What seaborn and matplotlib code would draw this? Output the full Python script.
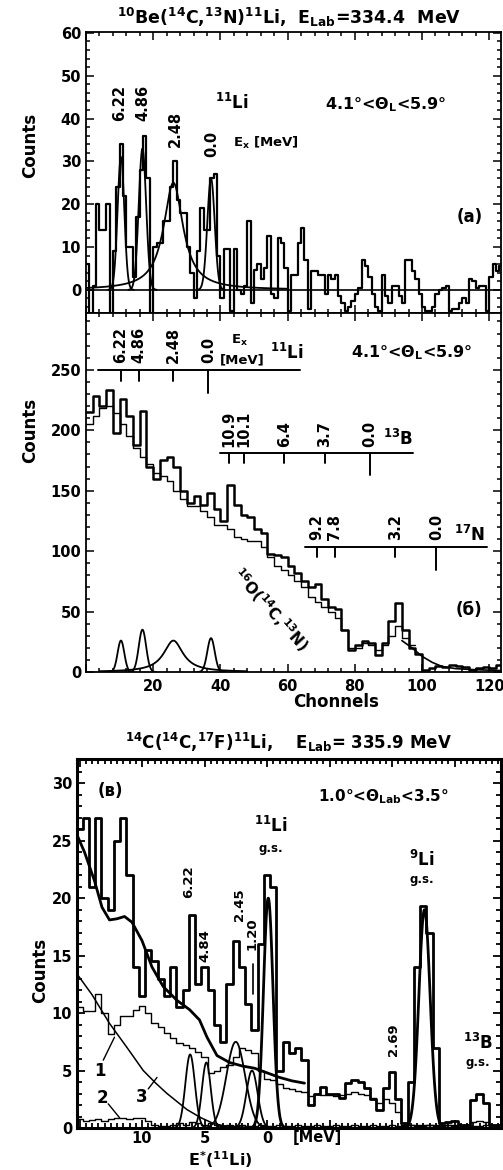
import numpy as np
import pandas as pd
import matplotlib
matplotlib.use("Agg")
import matplotlib.pyplot as plt
import matplotlib.transforms as mtransforms
from matplotlib.ticker import MultipleLocator
import seaborn as sns

# ---------------------------------------------------------------- data
# (a) 10Be(14C,13N)11Li, counts per channel, channels 0..123
a_counts = [6, -6, 1, 20, 14, 14, 20, -6, 9, 24,
            34, 22, 10, 10, 3, 17, 28, 36, 26, -6,
            10, 11, 11, 16, 16, 24, 30, 21, 18, 18,
            10, 4, -2, 9, 19, 14, 14, 26, 27, 8,
            -2, 9.5, 9.5, -5, 9.5, 0, -1, 1, 16, -3,
            4.6, 6, 2.5, 5, 12.5, -1, -2, 12, 11, 5,
            -5, 3.5, 3.5, 11, 14.5, 7, -4.5, 4.5, 4.5, 3.5,
            3.5, -1, 3.5, 2.5, 3.5, -1.5, -3, -5, -4, -2.5,
            -1, 0.5, 7, 5.5, 3, -1, -4, -5, 3.5, -1.5,
            -3, 1, 1, -1.5, -3, 7, 7, 4.5, 2.5, -1,
            -4, -5, -5, -4, -1, 0, 0.5, 0.8, -5, -4.5,
            -4.5, -3, -2, -3, 2.5, 2, 0.5, 1, 1, -5,
            3, 6, 4.5, 5.5]

# 11Li states seen in (a) and (б): label, channel, fitted heights, width, line shape
li_labels = ["6.22", "4.86", "2.48", "0.0"]
li_channel = [10.4, 16.8, 26.0, 37.2]
a_peak_height = [31, 33, 25, 26]
b_peak_height = [26, 35, 26, 28]
li_peak_width = [1.0, 1.1, 3.5, 1.1]
li_peak_shape = ["gauss", "gauss", "lorentz", "gauss"]

# (б) 16O(14C,13N) spectrum in 2-channel bins: measured and background histograms
b_counts = [215, 228, 220, 233, 198, 226, 212, 188, 216, 170,
            160, 175, 178, 170, 150, 140, 146, 138, 148, 135,
            125, 155, 138, 130, 128, 118, 115, 98, 97, 95,
            88, 82, 75, 70, 73, 60, 54, 52, 35, 18,
            22, 26, 24, 14, 24, 42, 57, 35, 20, 15,
            2, 3, 5, 4, 6, 5, 4, 2, 3, 4,
            3, 6]
b_background = [205, 212, 218, 220, 214, 205, 195, 185, 178, 172,
                165, 162, 158, 150, 143, 137, 137, 133, 128, 122,
                122, 118, 112, 110, 108, 108, 103, 95, 88, 84,
                80, 75, 70, 62, 58, 54, 50, 45, 35, 20,
                20, 24, 22, 18, 22, 30, 38, 28, 22]
b_tail_channel = [94, 97, 100, 103, 106, 110, 115, 120, 123.5]
b_tail_counts = [26, 20, 13, 8, 4.5, 2.8, 2.0, 1.5, 1.2]

# level schemes drawn over (б): excitation energies and their channels
li_scheme_channel = [10.4, 15.8, 25.9, 36.4]
b13_labels = ["10.9", "10.1", "6.4", "3.7", "0.0"]
b13_channel = [42.6, 47.0, 59.0, 71.1, 84.5]
n17_labels = ["9.2", "7.8", "3.2", "0.0"]
n17_channel = [68.6, 74.0, 92.1, 104.3]

# (в) 14C(14C,17F)11Li: counts in 0.5 MeV bins, E* from 15.0 down to -19.0 MeV
c_counts = [26, 27, 21, 27, 20, 19, 25, 27, 22, 14,
            11.5, 15.5, 14.5, 13, 11.5, 14, 10.5, 12, 18.5, 12.5,
            14, 12, 9, 7.5, 12.5, 16.3, 14, 10.8, 8.5, 16,
            22, 21, 5, 7.5, 6.5, 7, 5.9, 2, 3, 3.6,
            3, 3, 2.6, 3.9, 4.2, 4, 3.5, 2.5, 1.6, 3.5,
            4.9, 2.5, 0.4, 4, 14, 19.3, 17, 7, 0.4, 0.5,
            0.6, 0.3, 0.3, 2.4, 3, 2.2, 0.3, 0.3, 0.3]
c_hist1 = [10.5, 10.2, 10.2, 11.7, 10, 8.2, 9, 9.7, 9.7, 10.3,
           10.6, 10, 9.1, 8.8, 8.3, 7.8, 7.4, 7.2, 7, 6.6,
           6.2, 4.8, 5.0, 5.3, 5.5, 6.2, 7.0, 6.8, 6.5, 5,
           4.3, 4.2, 3.8, 3.5, 3.4, 3.2, 3.1, 2.8, 3, 2.9,
           2.9, 2.8, 2.9, 3.0, 3.1, 3.0, 2.9, 2.6, 2.2, 2.5,
           2.2, 1.4, 0.3, 0.3, 0.3, 0.3, 0.3, 0.3, 0.3, 0.3,
           0.3, 0.3, 0.3, 0.5, 0.6, 0.5, 0.3, 0.3, 0.3]
c_hist2 = [0.8, 0.6, 0.7, 0.8, 0.6, 0.8, 0.9, 0.9, 0.8, 0.9,
           0.9, 0.6, 0.3, 0.2, 0.2, 0.3, 0.4, 0.3, 0.5, 0.4,
           0.3, 0.4, 0.3, 0.2, 0.3, 0.2, 0.3, 0.2, 0.2, 0.3,
           0.2, 0.2, 0.3, 0.2, 0.2, 0.3, 0.2, 0.2, 0.3, 0.2,
           0.2, 0.3, 0.2, 0.2, 0.3, 0.2, 0.2, 0.3, 0.2, 0.2,
           0.3, 0.2, 0.2, 0.3, 0.2, 0.2, 0.3, 0.2, 0.2, 0.3,
           0.2, 0.2, 0.3, 0.2, 0.2, 0.3, 0.2, 0.2, 0.3]
c3_energy = [15.2, 14.0, 12.6, 11.2, 9.9, 8.9, 8.0, 7.2, 6.4, 5.3, 4.3, 3.5, 2.5, 1.0]
c3_counts = [13.4, 11.6, 9.1, 7.0, 5.0, 3.9, 3.0, 2.3, 1.6, 0.9, 0.4, 0.2, 0.1, 0.05]
c_bg_energy = [15.2, 14.6, 13.8, 13.2, 12.6, 12.0, 11.4, 10.8, 10.0, 9.2, 8.3, 7.2,
               6.2, 5.4, 4.8, 4.0, 3.0, 2.0, 1.0, 0.0, -1.0, -2.0, -3.0]
c_bg_counts = [25.5, 24.0, 21.5, 19.2, 18.1, 18.2, 18.4, 17.9, 16.3, 14.0, 12.3, 11.1,
               10.3, 9.4, 7.9, 6.3, 5.7, 5.4, 5.2, 4.8, 4.4, 4.1, 3.9]
c_peak_energy = [6.15, 4.85, 2.5, 1.2, -0.1, -12.6]
c_peak_height = [6.4, 5.7, 7.5, 5.0, 20.0, 19.0]
c_peak_sigma = [0.38, 0.35, 0.75, 0.45, 0.38, 0.45]

# ---------------------------------------------------------------- style
sns.set_theme(style="ticks")
plt.rcParams.update({
    "font.family": ["DejaVu Sans"],
    "font.weight": "bold",
    "mathtext.fontset": "custom",
    "mathtext.rm": "DejaVu Sans:bold",
    "mathtext.it": "DejaVu Sans:bold",
    "mathtext.bf": "DejaVu Sans:bold",
    "mathtext.default": "rm",
    "axes.edgecolor": "black",
    "axes.linewidth": 1.3,
    "xtick.color": "black",
    "ytick.color": "black",
    "text.color": "black",
})
K = "black"


def gauss(x, c, h, s):
    return h * np.exp(-0.5 * ((x - c) / s) ** 2)


def lorentz(x, c, h, w):
    return h / (1.0 + ((x - c) / w) ** 2)


def step_frame(edges, values):
    return pd.DataFrame({"x": np.asarray(edges, float), "y": list(values) + [values[-1]]})


def draw_steps(ax, edges, values, lw):
    sns.lineplot(data=step_frame(edges, values), x="x", y="y", ax=ax, color=K, lw=lw,
                 drawstyle="steps-post", estimator=None, sort=False)


def draw_line(ax, x, y, lw):
    sns.lineplot(x=np.asarray(x, float), y=np.asarray(y, float), ax=ax, color=K, lw=lw,
                 estimator=None, sort=False)


def li_component(x, i, heights):
    if li_peak_shape[i] == "gauss":
        return gauss(x, li_channel[i], heights[i], li_peak_width[i])
    return lorentz(x, li_channel[i], heights[i], li_peak_width[i])


W, H = 503, 1170
fig = plt.figure(figsize=(W / 100, H / 100), dpi=100)
fig.patch.set_facecolor("white")
ax_a = fig.add_axes([86 / W, 1 - 313 / H, 415 / W, 281 / H])
ax_b = fig.add_axes([86 / W, 1 - 672 / H, 415 / W, 359 / H])
ax_c = fig.add_axes([77 / W, 1 - 1128 / H, 424 / W, 369 / H])

# ---------------------------------------------------------------- (a)
draw_steps(ax_a, np.arange(len(a_counts) + 1), a_counts, 1.6)
ax_a.axhline(0, color=K, lw=1.2)
for i in range(len(li_channel)):
    if li_peak_shape[i] == "gauss":
        xs = np.linspace(li_channel[i] - 3.8 * li_peak_width[i], li_channel[i] + 3.8 * li_peak_width[i], 120)
    else:
        xs = np.linspace(0, 60, 400)
    draw_line(ax_a, xs, li_component(xs, i, a_peak_height), 1.3)

ax_a.set_xlim(0, 123.5)
ax_a.set_ylim(-5.4, 60.2)
ax_a.yaxis.set_major_locator(MultipleLocator(10))
ax_a.yaxis.set_minor_locator(MultipleLocator(2))
ax_a.xaxis.set_major_locator(MultipleLocator(20))
ax_a.xaxis.set_minor_locator(MultipleLocator(4))
ax_a.set_xticklabels([])

a_label_base = [39.5, 39.5, 33.4, 31.0]
for lab, ch, yb in zip(li_labels, [10.1, 17.0, 26.5, 37.5], a_label_base):
    ax_a.text(ch, yb, lab, rotation=90, ha="center", va="bottom", fontsize=10.5)
ax_a.text(43.5, 43.7, r"$^{11}$Li", ha="center", va="center", fontsize=12)
ax_a.text(43.8, 34.3, r"E$_x$ [MeV]", ha="left", va="center", fontsize=9.5)
ax_a.text(89.3, 43.2, r"4.1°<Θ$_L$<5.9°", ha="center", va="center", fontsize=11.5)
ax_a.text(114.3, 17, "(a)", ha="center", va="center", fontsize=12)

# ---------------------------------------------------------------- (б)
b_edges = np.arange(0, 2 * len(b_counts) + 1, 2)
draw_steps(ax_b, b_edges, b_counts, 1.8)
draw_steps(ax_b, b_edges[:len(b_background) + 1], b_background, 1.0)
draw_line(ax_b, b_tail_channel, b_tail_counts, 1.2)
for i in range(len(li_channel)):
    if li_peak_shape[i] == "gauss":
        xs = np.linspace(li_channel[i] - 3.8 * li_peak_width[i], li_channel[i] + 3.8 * li_peak_width[i], 120)
    else:
        xs = np.linspace(4, 48, 300)
    draw_line(ax_b, xs, li_component(xs, i, b_peak_height), 1.3)

ax_b.set_xlim(0, 123.5)
ax_b.set_ylim(0, 297)
ax_b.yaxis.set_major_locator(MultipleLocator(50))
ax_b.yaxis.set_minor_locator(MultipleLocator(10))
ax_b.set_xticks([0, 20, 40, 60, 80, 100, 120])
ax_b.set_xticklabels(["", "20", "40", "60", "80", "100", "120"])
ax_b.xaxis.set_minor_locator(MultipleLocator(4))


def level_scheme(ax, channels, labels, y, x0, x1, short, long_, label_base):
    ax.plot([x0, x1], [y, y], color=K, lw=1.4)
    for j, (ch, lab) in enumerate(zip(channels, labels)):
        tip = long_ if j == len(channels) - 1 else short
        ax.plot([ch, ch], [y, tip], color=K, lw=1.4)
        ax.text(ch, label_base, lab, rotation=90, ha="center", va="bottom", fontsize=10.5)


level_scheme(ax_b, li_scheme_channel, li_labels, 250, 3.6, 63.7, 241, 231, 256)
level_scheme(ax_b, b13_channel, b13_labels, 181, 39.9, 97.4, 173, 163, 186)
level_scheme(ax_b, n17_channel, n17_labels, 103, 65.2, 119.2, 95, 84, 109)
ax_b.text(45.8, 274, r"E$_x$", ha="center", va="center", fontsize=9.5)
ax_b.text(46.4, 258, "[MeV]", ha="center", va="center", fontsize=9.5)
ax_b.text(59.8, 264, r"$^{11}$Li", ha="center", va="center", fontsize=12)
ax_b.text(97, 264, r"4.1°<Θ$_L$<5.9°", ha="center", va="center", fontsize=11.5)
ax_b.text(93, 193, r"$^{13}$B", ha="center", va="center", fontsize=12)
ax_b.text(114.3, 113, r"$^{17}$N", ha="center", va="center", fontsize=12)
ax_b.text(54.8, 52, r"$^{16}$O($^{14}$C,$^{13}$N)", rotation=-48, ha="center", va="center",
          fontsize=11)
ax_b.text(114, 51, "(б)", ha="center", va="center", fontsize=12)

for ax in (ax_a, ax_b):
    ax.tick_params(which="both", direction="in", top=True, right=True, labelsize=10.5, width=1.1)
    ax.tick_params(which="major", length=6)
    ax.tick_params(which="minor", length=3)
ax_b.tick_params(axis="x", pad=5)

# ---------------------------------------------------------------- (в)
c_edges = np.arange(15.25, -19.26, -0.5)
draw_steps(ax_c, c_edges, c_counts, 2.0)
draw_steps(ax_c, c_edges, c_hist1, 1.0)
draw_steps(ax_c, c_edges, c_hist2, 1.0)
draw_line(ax_c, c3_energy, c3_counts, 1.1)
draw_line(ax_c, c_bg_energy, c_bg_counts, 2.0)
for c, h, s in zip(c_peak_energy, c_peak_height, c_peak_sigma):
    xs = np.linspace(c - 3.8 * s, c + 3.8 * s, 120)
    draw_line(ax_c, xs, gauss(xs, c, h, s), 2.0 if h > 15 else 1.3)

ax_c.set_xlim(15.2, -18.72)
ax_c.set_ylim(0, 32.1)
ax_c.set_xticks([15, 10, 5, 0, -5, -10, -15])
ax_c.set_xticklabels(["", "10", "5", "0", "", "", ""])
ax_c.xaxis.set_minor_locator(MultipleLocator(0.5))
ax_c.yaxis.set_major_locator(MultipleLocator(5))
ax_c.yaxis.set_minor_locator(MultipleLocator(1))
ax_c.tick_params(which="both", direction="in", top=True, right=True, labelsize=10.5, width=1.3)
ax_c.tick_params(which="major", length=6)
ax_c.tick_params(which="minor", length=3.5)
ax_c.tick_params(axis="x", pad=2)
for sp in ax_c.spines.values():
    sp.set_linewidth(2.2)

ax_c.text(12.56, 29.3, "(в)", ha="center", va="center", fontsize=12)
ax_c.text(-9.3, 28.8, r"1.0°<Θ$_{Lab}$<3.5°", ha="center", va="center", fontsize=11)
ax_c.text(-0.3, 26.3, r"$^{11}$Li", ha="center", va="center", fontsize=12)
ax_c.text(-0.3, 24.3, "g.s.", ha="center", va="center", fontsize=8.5)
ax_c.text(-12.4, 23.3, r"$^{9}$Li", ha="center", va="center", fontsize=12)
ax_c.text(-12.4, 21.6, "g.s.", ha="center", va="center", fontsize=8.5)
ax_c.text(-16.9, 7.4, r"$^{13}$B", ha="center", va="center", fontsize=12)
ax_c.text(-16.9, 5.7, "g.s.", ha="center", va="center", fontsize=8.5)
for lab, e, v in [("6.22", 6.3, 21.4), ("4.84", 5.0, 15.9), ("2.45", 2.16, 19.4),
                  ("1.20", 1.2, 16.9), ("2.69", -10.1, 7.7)]:
    ax_c.text(e, v, lab, rotation=90, ha="center", va="center", fontsize=9.5)
ax_c.plot([1.1, 1.1], [11.7, 14.3], color=K, lw=1.2)
for lab, (tx, ty), (p0, p1) in [("1", (13.4, 5.0), ((13.1, 5.9), (12.2, 7.9))),
                                ("2", (13.2, 2.6), ((12.7, 2.1), (11.8, 0.9))),
                                ("3", (10.0, 2.7), ((9.5, 3.4), (8.8, 4.4)))]:
    ax_c.text(tx, ty, lab, ha="center", va="center", fontsize=12)
    ax_c.plot([p0[0], p1[0]], [p0[1], p1[1]], color=K, lw=1.0)
trans_c = mtransforms.blended_transform_factory(ax_c.transData, ax_c.transAxes)
ax_c.text(-4.0, -0.026, "[MeV]", transform=trans_c, ha="center", va="center", fontsize=10.5)

for ax in (ax_a, ax_b, ax_c):
    ax.set_xlabel("")
    ax.set_ylabel("")

# ---------------------------------------------------------------- titles and axis names
fig.text(289 / W, 1 - 17 / H,
         r"$^{10}$Be($^{14}$C,$^{13}$N)$^{11}$Li,  E$_{Lab}$=334.4  MeV",
         ha="center", va="center", fontsize=12.5)
fig.text(288 / W, 1 - 742 / H,
         r"$^{14}$C($^{14}$C,$^{17}$F)$^{11}$Li,    E$_{Lab}$= 335.9 MeV",
         ha="center", va="center", fontsize=12)
fig.text(336 / W, 1 - 702 / H, "Chonnels", ha="center", va="center", fontsize=12)
fig.text(220 / W, 1 - 1160 / H, r"E$^{*}$($^{11}$Li)", ha="center", va="center", fontsize=11.5)
for y in (145, 430):
    fig.text(30 / W, 1 - y / H, "Counts", rotation=90, ha="center", va="center", fontsize=12)
fig.text(40 / W, 1 - 970 / H, "Counts", rotation=90, ha="center", va="center", fontsize=12)

fig.savefig("out.png", dpi=100, facecolor="white")
